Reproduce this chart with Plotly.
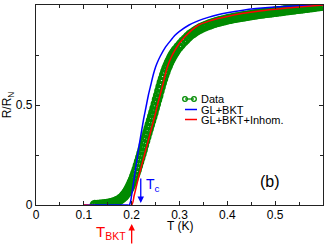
import plotly.graph_objects as go

# ---- data ----
data_T = [0.123, 0.128, 0.133, 0.138, 0.143, 0.148, 0.153, 0.158, 0.163, 0.168,
          0.173, 0.178, 0.183, 0.1855, 0.188, 0.1905, 0.193, 0.1955, 0.198, 0.2005,
          0.203, 0.2055, 0.208, 0.2105, 0.213, 0.2155, 0.218, 0.2205, 0.223, 0.2255,
          0.228, 0.2305, 0.233, 0.2355, 0.238, 0.2405, 0.243, 0.2455, 0.248, 0.2505,
          0.253, 0.2555, 0.258, 0.2605, 0.263, 0.2655, 0.268, 0.2705, 0.273, 0.2755,
          0.278, 0.2805, 0.283, 0.2855, 0.288, 0.2905, 0.293, 0.298, 0.303, 0.308,
          0.313, 0.318, 0.323, 0.328, 0.333, 0.338, 0.343, 0.348, 0.353, 0.358,
          0.363, 0.368, 0.373, 0.378, 0.383, 0.388, 0.393, 0.398, 0.403, 0.408,
          0.413, 0.418, 0.423, 0.428, 0.433, 0.438, 0.443, 0.448, 0.453, 0.458,
          0.463, 0.468, 0.473, 0.478, 0.483, 0.488, 0.493, 0.498, 0.503, 0.508,
          0.513, 0.518, 0.523, 0.528, 0.533, 0.538, 0.543, 0.548, 0.553, 0.558,
          0.563, 0.568, 0.573, 0.578, 0.583, 0.588, 0.593, 0.598]
data_R = [0.000, 0.000, 0.001, 0.002, 0.003, 0.005, 0.007, 0.010, 0.013, 0.018,
          0.024, 0.032, 0.043, 0.050, 0.057, 0.066, 0.076, 0.088, 0.100, 0.114,
          0.128, 0.144, 0.160, 0.178, 0.197, 0.217, 0.237, 0.257, 0.278, 0.299,
          0.320, 0.341, 0.362, 0.382, 0.402, 0.422, 0.442, 0.463, 0.484, 0.505,
          0.527, 0.548, 0.570, 0.591, 0.612, 0.631, 0.650, 0.667, 0.684, 0.698,
          0.712, 0.724, 0.736, 0.747, 0.757, 0.766, 0.775, 0.790, 0.804, 0.817,
          0.829, 0.841, 0.852, 0.860, 0.869, 0.876, 0.883, 0.889, 0.894, 0.899,
          0.903, 0.907, 0.911, 0.915, 0.918, 0.921, 0.924, 0.927, 0.930, 0.932,
          0.935, 0.937, 0.939, 0.941, 0.943, 0.945, 0.947, 0.949, 0.951, 0.953,
          0.955, 0.957, 0.958, 0.960, 0.961, 0.963, 0.964, 0.966, 0.967, 0.969,
          0.970, 0.972, 0.974, 0.975, 0.977, 0.978, 0.980, 0.981, 0.983, 0.984,
          0.986, 0.987, 0.989, 0.990, 0.992, 0.994, 0.995, 0.997]

glbkt_T = [0.1, 0.19, 0.195, 0.198, 0.2, 0.205, 0.21, 0.215, 0.22, 0.225, 0.23, 0.235,
           0.24, 0.245, 0.25, 0.255, 0.26, 0.27, 0.28, 0.29, 0.3, 0.32, 0.34, 0.36,
           0.38, 0.4, 0.43, 0.46, 0.5, 0.55, 0.6]
glbkt_R = [0.0, 0.0, 0.0, 0.02, 0.05, 0.13, 0.21, 0.29, 0.36, 0.43, 0.49, 0.55,
           0.6, 0.65, 0.69, 0.72, 0.745, 0.787, 0.818, 0.847, 0.868, 0.9, 0.922, 0.938,
           0.951, 0.961, 0.973, 0.982, 0.99, 0.996, 1.0]

inhom_T = [0.1, 0.2, 0.205, 0.21, 0.215, 0.22, 0.225, 0.23, 0.235, 0.24, 0.245, 0.25,
           0.255, 0.26, 0.265, 0.27, 0.275, 0.28, 0.285, 0.29, 0.3, 0.31, 0.32, 0.33,
           0.34, 0.36, 0.38, 0.4, 0.43, 0.46, 0.5, 0.55, 0.6]
inhom_R = [0.0, 0.0, 0.045, 0.095, 0.145, 0.19, 0.235, 0.28, 0.325, 0.37, 0.415, 0.46,
           0.51, 0.555, 0.6, 0.65, 0.692, 0.724, 0.75, 0.772, 0.81, 0.838, 0.862, 0.883,
           0.9, 0.918, 0.932, 0.943, 0.957, 0.968, 0.979, 0.99, 1.0]

x_ticks = [0, 0.1, 0.2, 0.3, 0.4, 0.5]
x_ticktext = ["0", "0.1", "0.2", "0.3", "0.4", "0.5"]
y_ticks = [0, 0.5, 1]
y_ticktext = ["0", "0.5", "1"]

T_c = 0.219
T_BKT = 0.2

GREEN = "rgb(0,139,0)"
BLUE = "rgb(0,0,255)"
RED = "rgb(255,0,0)"
FONT = "Liberation Sans, Arial, sans-serif"

W, H = 327, 247
ML, MR, MT, MB = 36, 4, 5, 42
PW, PH = W - ML - MR, H - MT - MB


def px(xp):
    return (xp - ML) / PW


def py(yp):
    return (H - MB - yp) / PH


fig = go.Figure()
fig.add_trace(go.Scatter(x=data_T, y=data_R, mode="lines+markers", name="Data",
                         line=dict(color=GREEN, width=1.5),
                         marker=dict(symbol="circle-open", size=8, color=GREEN,
                                     line=dict(width=2.6, color=GREEN))))
fig.add_trace(go.Scatter(x=glbkt_T, y=glbkt_R, mode="lines", name="GL+BKT",
                         line=dict(color=BLUE, width=1.5, shape="spline", smoothing=0.6)))
fig.add_trace(go.Scatter(x=inhom_T, y=inhom_R, mode="lines", name="GL+BKT+Inhom.",
                         line=dict(color=RED, width=1.5, shape="spline", smoothing=0.6)))

shapes = []
annotations = []

# manual legend
leg_rows = [(99, "Data", GREEN), (109.5, "GL+BKT", BLUE), (119.5, "GL+BKT+Inhom.", RED)]
for yy, label, col in leg_rows:
    if label == "Data":
        shapes.append(dict(type="line", xref="paper", yref="paper",
                           x0=px(185), x1=px(194), y0=py(yy), y1=py(yy),
                           line=dict(color=col, width=1.3)))
        for cx in (185, 194):
            shapes.append(dict(type="circle", xref="paper", yref="paper",
                               xsizemode="pixel", ysizemode="pixel",
                               xanchor=px(cx), yanchor=py(yy),
                               x0=-2.3, x1=2.3, y0=-2.3, y1=2.3,
                               line=dict(color=col, width=1.3)))
    else:
        shapes.append(dict(type="line", xref="paper", yref="paper",
                           x0=px(185), x1=px(197), y0=py(yy), y1=py(yy),
                           line=dict(color=col, width=1.5)))
    annotations.append(dict(text=label, xref="paper", yref="paper",
                            x=px(199), y=py(yy), xanchor="left", yanchor="middle",
                            showarrow=False, font=dict(size=11, color="black", family=FONT)))

# x-axis title
annotations.append(dict(text="T (K)", xref="paper", yref="paper", x=px(180), y=py(226),
                        xanchor="center", yanchor="middle", showarrow=False,
                        font=dict(size=12, color="black", family=FONT)))
# (b)
annotations.append(dict(text="(b)", xref="paper", yref="paper", x=px(270), y=py(181),
                        xanchor="center", yanchor="middle", showarrow=False,
                        font=dict(size=16, color="black", family=FONT)))
# T_c arrow + label
annotations.append(dict(text="", x=T_c, y=0.01, xref="x", yref="y",
                        ax=0, ay=-26, showarrow=True, arrowhead=2, arrowsize=1,
                        arrowwidth=1.3, arrowcolor=BLUE))
annotations.append(dict(text="T<sub>c</sub>", xref="paper", yref="paper",
                        x=px(144), y=py(185), xanchor="left", yanchor="middle",
                        showarrow=False, font=dict(size=14, color=BLUE, family=FONT)))
# T_BKT arrow + label
annotations.append(dict(text="", x=T_BKT, y=py(224), xref="x", yref="paper",
                        ax=0, ay=21, showarrow=True, arrowhead=2, arrowsize=1,
                        arrowwidth=1.3, arrowcolor=RED))
annotations.append(dict(text="T<sub>BKT</sub>", xref="paper", yref="paper",
                        x=px(111), y=py(232), xanchor="center", yanchor="middle",
                        showarrow=False, font=dict(size=15, color=RED, family=FONT)))

axis_common = dict(showline=True, linecolor="#222", linewidth=1.3, mirror="allticks",
                   ticks="inside", ticklen=4, tickwidth=1, tickcolor="#222",
                   showgrid=False, zeroline=False, automargin=False,
                   tickfont=dict(size=12, color="black", family=FONT))

fig.update_layout(
    width=W, height=H,
    margin=dict(l=ML, r=MR, t=MT, b=MB),
    paper_bgcolor="white", plot_bgcolor="white",
    showlegend=False,
    shapes=shapes, annotations=annotations,
    xaxis=dict(range=[0, 0.6], tickvals=x_ticks, ticktext=x_ticktext,
               ticklabelstandoff=-2,
               minor=dict(dtick=0.05, tick0=0, ticks="inside", ticklen=2.5, tickcolor="#222"),
               **axis_common),
    yaxis=dict(range=[0, 1], tickvals=y_ticks, ticktext=y_ticktext,
               minor=dict(dtick=0.25, tick0=0, ticks="inside", ticklen=2.5, tickcolor="#222"),
               title=dict(text="R/R<sub>N</sub>", font=dict(size=12, family=FONT, color="black"), standoff=2),
               **axis_common),
)

fig.write_html("out.html", config={"displayModeBar": False},
               post_script="document.body.style.margin='0px';")
